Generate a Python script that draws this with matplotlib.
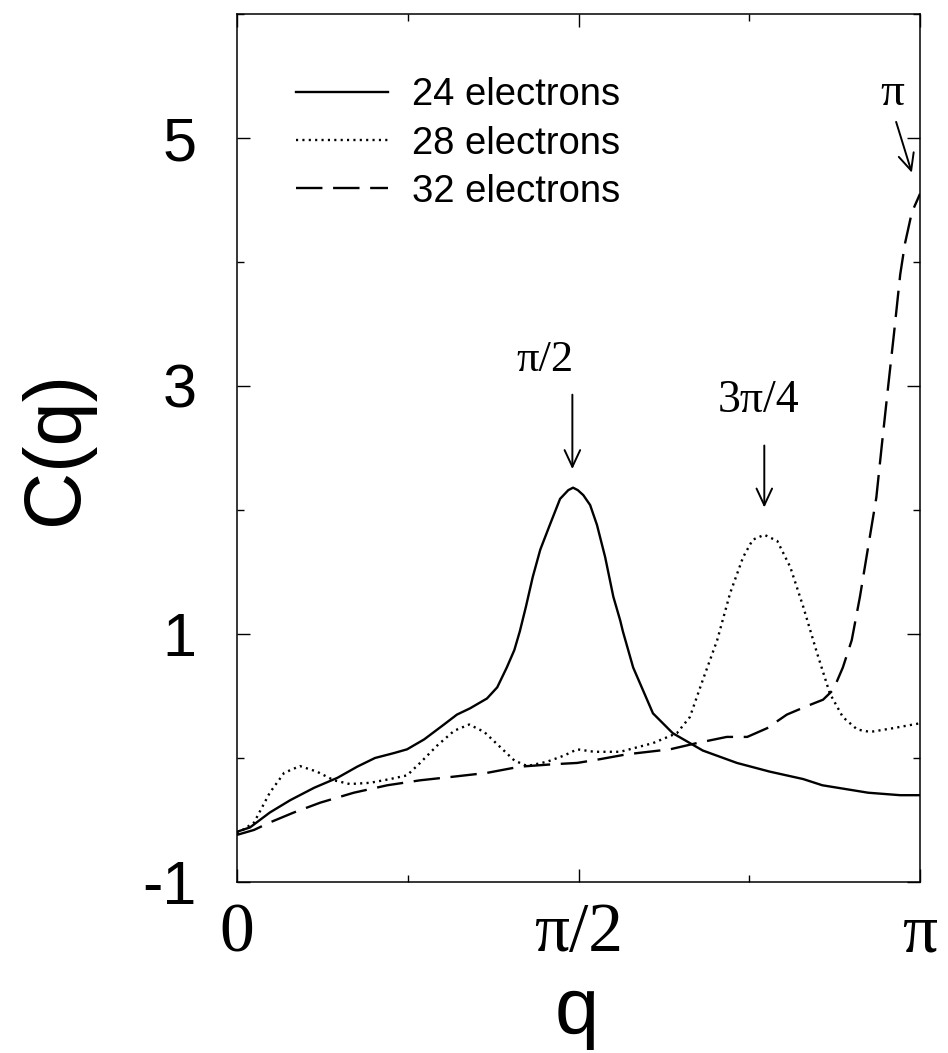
import numpy as np
import matplotlib
matplotlib.use("Agg")
import matplotlib.pyplot as plt
from matplotlib.ticker import FixedLocator

# q given in units of pi
Q24 = [0.000, 0.019, 0.048, 0.078, 0.113, 0.147, 0.176, 0.202, 0.230, 0.249,
       0.274, 0.303, 0.322, 0.341, 0.366, 0.381, 0.395, 0.406, 0.414, 0.423,
       0.433, 0.444, 0.458, 0.473, 0.485, 0.492, 0.499, 0.507, 0.517, 0.527,
       0.539, 0.551, 0.561, 0.565, 0.580, 0.609, 0.638, 0.682, 0.732, 0.780,
       0.829, 0.857, 0.924, 0.971, 1.000]
C24 = [-0.595, -0.56, -0.44, -0.34, -0.24, -0.16, -0.07, 0.00, 0.04, 0.07,
       0.15, 0.27, 0.35, 0.40, 0.48, 0.57, 0.73, 0.87, 1.02, 1.22,
       1.46, 1.68, 1.88, 2.09, 2.16, 2.18, 2.16, 2.12, 2.04, 1.88,
       1.62, 1.30, 1.11, 1.02, 0.73, 0.36, 0.20, 0.06, -0.04, -0.11,
       -0.17, -0.22, -0.28, -0.30, -0.30]

Q28 = [0.000, 0.025, 0.048, 0.069, 0.092, 0.117, 0.142, 0.165, 0.195, 0.224,
       0.249, 0.268, 0.293, 0.318, 0.340, 0.362, 0.385, 0.406, 0.425, 0.454,
       0.479, 0.498, 0.523, 0.561, 0.609, 0.644, 0.663, 0.682, 0.703, 0.722,
       0.741, 0.755, 0.772, 0.791, 0.810, 0.829, 0.849, 0.868, 0.887, 0.908,
       0.927, 0.960, 1.000]
C28 = [-0.61, -0.52, -0.28, -0.12, -0.065, -0.11, -0.18, -0.21, -0.20, -0.17,
       -0.14, -0.04, 0.10, 0.22, 0.27, 0.21, 0.09, -0.02, -0.065, -0.03,
       0.02, 0.07, 0.05, 0.05, 0.12, 0.20, 0.33, 0.63, 0.95, 1.33,
       1.62, 1.76, 1.80, 1.75, 1.54, 1.22, 0.85, 0.52, 0.33, 0.23,
       0.21, 0.24, 0.28]

Q32 = [0.000, 0.025, 0.048, 0.083, 0.122, 0.171, 0.220, 0.268, 0.318, 0.366,
       0.414, 0.464, 0.498, 0.531, 0.571, 0.634, 0.673, 0.717, 0.747, 0.776,
       0.805, 0.835, 0.858, 0.873, 0.887, 0.900, 0.912, 0.924, 0.936, 0.944,
       0.953, 0.962, 0.971, 0.978, 0.988, 1.000]
C32 = [-0.62, -0.58, -0.52, -0.44, -0.36, -0.28, -0.22, -0.18, -0.15, -0.12,
       -0.07, -0.05, -0.04, -0.01, 0.03, 0.07, 0.12, 0.17, 0.17, 0.24,
       0.35, 0.42, 0.47, 0.55, 0.73, 0.95, 1.30, 1.70, 2.10, 2.52,
       2.98, 3.43, 3.90, 4.15, 4.40, 4.55]

LABELS = ["24 electrons", "28 electrons", "32 electrons"]
XTICK_LABELS = ["0", "\u03c0/2", "\u03c0"]
YTICKS = [-1, 1, 3, 5]
YMINOR = [0, 2, 4, 6]

# peak markers: (text, text x/pi, text y, arrow tail x/pi, tail y, tip x/pi, tip y, size)
PEAKS = [
    ("\u03c0/2", 0.451, 3.21, 0.491, 2.93, 0.491, 2.33, 32),
    ("3\u03c0/4", 0.764, 2.88, 0.772, 2.52, 0.772, 2.02, 33),
    ("\u03c0", 0.960, 5.36, 0.965, 5.13, 0.988, 4.72, 34),
]

SANS = "Liberation Sans"
SERIF = "Liberation Serif"
LW = 1.7

fig = plt.figure(figsize=(9.48, 10.53), dpi=100)
ax = fig.add_axes([0.25, 0.1624, 0.7205, 0.8243])

ax.plot(np.array(Q24) * np.pi, C24, color="black", lw=LW, linestyle="-", label=LABELS[0])
ax.plot(np.array(Q28) * np.pi, C28, color="black", lw=LW, linestyle=(0, (0.9, 1.8)), label=LABELS[1])
ax.plot(np.array(Q32) * np.pi, C32, color="black", lw=LW, linestyle=(0, (11.2, 4.5)), label=LABELS[2])

for txt, tx, ty, ax0, ay0, ax1, ay1, size in PEAKS:
    ax.text(tx * np.pi, ty, txt, fontsize=size, family=SERIF, ha="center", va="center")
    ax.annotate("", xy=(ax1 * np.pi, ay1), xytext=(ax0 * np.pi, ay0),
                arrowprops=dict(arrowstyle="->,head_length=0.6,head_width=0.28",
                                lw=1.4, color="black", mutation_scale=20,
                                shrinkA=0, shrinkB=0))

ax.set_xlim(0, np.pi)
ax.set_ylim(-1, 6)
ax.set_xticks([0, np.pi / 2, np.pi])
ax.set_xticklabels(XTICK_LABELS, family=SERIF, fontsize=50)
ax.xaxis.set_minor_locator(FixedLocator([np.pi / 4, 3 * np.pi / 4]))
ax.set_yticks(YTICKS)
ax.set_yticklabels([str(v) for v in YTICKS], family=SANS, fontsize=44)
ax.yaxis.set_minor_locator(FixedLocator(YMINOR))

ax.tick_params(which="both", direction="in", top=True, right=True, width=1.0)
ax.tick_params(which="major", length=9.5)
ax.tick_params(which="minor", length=5)
ax.tick_params(axis="x", which="major", pad=15)
ax.tick_params(axis="y", which="major", pad=29)
for s in ax.spines.values():
    s.set_linewidth(1.1)

ax.set_xlabel("q", family=SANS, fontsize=57)
ax.set_ylabel("C(q)", family=SANS, fontsize=57)
ax.xaxis.set_label_coords(0.498, -0.107)
ax.yaxis.set_label_coords(-0.21, 0.5)

leg = ax.legend(loc="upper left", bbox_to_anchor=(0.087, 0.927), frameon=False,
                prop={"family": SANS, "size": 27.5}, handlelength=2.4,
                handletextpad=0.62, labelspacing=0.32, borderpad=0, borderaxespad=0)

fig.savefig("out.png", dpi=100)
